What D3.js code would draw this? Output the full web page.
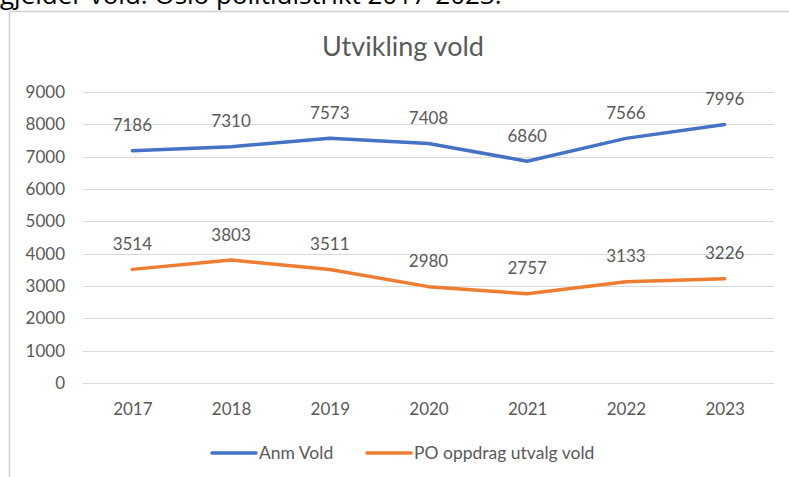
<!DOCTYPE html>
<html><head><meta charset="utf-8">
<script src="https://cdn.jsdelivr.net/npm/d3@7"></script>
<style>
html,body{margin:0;padding:0;background:#fff;overflow:hidden;}
svg{display:block;}
</style></head>
<body>
<svg id="c" width="789" height="477"></svg>
<script>
const years = ["2017","2018","2019","2020","2021","2022","2023"];
const anmVold = [7186, 7310, 7573, 7408, 6860, 7566, 7996];
const poOppdrag = [3514, 3803, 3511, 2980, 2757, 3133, 3226];
const yTicks = [0,1000,2000,3000,4000,5000,6000,7000,8000,9000];
const seriesNames = ["Anm Vold", "PO oppdrag utvalg vold"];
const colors = ["#4472C4", "#ED7D31"];
const title = "Utvikling vold";
const caption = "gjelder vold. Oslo politidistrikt 2017-2023.";

const svg = d3.select("#c");
const font = "Lato, 'Open Sans', sans-serif";
const grey = "#595959";

// caption cut at top
svg.append("text").attr("x", 0).attr("y", 4).attr("font-family", "'Open Sans', sans-serif")
  .attr("font-size", 26).attr("fill", "#000").text(caption);

// chart box
svg.append("rect").attr("x", 9.5).attr("y", 11.5).attr("width", 800).attr("height", 480)
  .attr("fill", "#fff").attr("stroke", "#d0d0d0").attr("stroke-width", 1.5);

const L = 83, R = 774, T = 92, B = 383;
const x = d3.scalePoint().domain(years).range([L, R]).padding(0.5);
const y = d3.scaleLinear().domain([0, 9000]).range([B, T]);

svg.append("text").attr("x", 403).attr("y", 56).attr("text-anchor", "middle")
  .attr("font-family", font).attr("font-size", 27).attr("fill", grey).text(title);

// gridlines
svg.append("g").selectAll("line").data(yTicks).join("line")
  .attr("x1", L).attr("x2", R).attr("y1", d => Math.round(y(d)) + 0.5).attr("y2", d => Math.round(y(d)) + 0.5)
  .attr("stroke", "#d9d9d9").attr("stroke-width", 1.2);

// y axis labels
const yAxis = d3.axisLeft(y).tickValues(yTicks).tickFormat(d3.format("d")).tickSize(0).tickPadding(0);
const gy = svg.append("g").attr("transform", `translate(65,0)`).call(yAxis);
gy.select(".domain").remove();
gy.selectAll("text").attr("font-family", font).attr("font-size", 17).attr("fill", grey);

// x axis labels
const xAxis = d3.axisBottom(x).tickSize(0).tickPadding(0);
const gx = svg.append("g").attr("transform", `translate(0,403)`).call(xAxis);
gx.select(".domain").remove();
gx.selectAll("text").attr("font-family", font).attr("font-size", 17).attr("fill", grey).attr("dy", "0.71em");

const series = [anmVold, poOppdrag];
const line = d3.line().x((d, i) => x(years[i])).y(d => y(d));
series.forEach((s, k) => {
  svg.append("path").datum(s).attr("d", line).attr("fill", "none")
    .attr("stroke", colors[k]).attr("stroke-width", 3.5).attr("stroke-linejoin", "round").attr("stroke-linecap", "round");
  svg.append("g").selectAll("text").data(s).join("text")
    .attr("x", (d, i) => x(years[i])).attr("y", d => y(d) - 19.5)
    .attr("text-anchor", "middle").attr("font-family", font).attr("font-size", 17).attr("fill", grey)
    .text(d => d);
});

// legend
const legX = [212, 367];
seriesNames.forEach((n, k) => {
  svg.append("line").attr("x1", legX[k]).attr("x2", legX[k] + 44).attr("y1", 453).attr("y2", 453)
    .attr("stroke", colors[k]).attr("stroke-width", 3.5).attr("stroke-linecap", "round");
  svg.append("text").attr("x", legX[k] + 47).attr("y", 453).attr("dy", "0.35em")
    .attr("font-family", font).attr("font-size", 17.5).attr("fill", grey).text(n);
});
</script>
</body></html>
